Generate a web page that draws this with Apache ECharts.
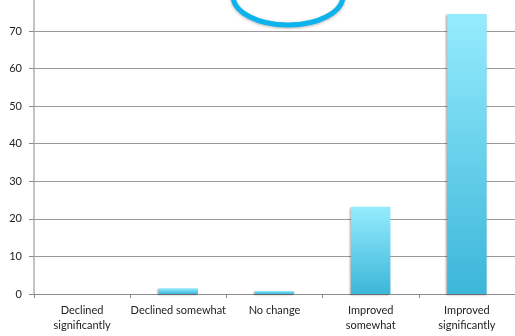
<!DOCTYPE html>
<html>
<head>
<meta charset="utf-8">
<script src="https://cdn.jsdelivr.net/npm/echarts@6/dist/echarts.min.js"></script>
<style>
html,body{margin:0;padding:0;background:#fff;}
#chart{width:515px;height:336px;}
</style>
</head>
<body>
<div id="chart"></div>
<script>
const categories = ['Declined\nsignificantly', 'Declined somewhat', 'No change', 'Improved\nsomewhat', 'Improved\nsignificantly'];
const values = [0, 1.5, 0.8, 23.2, 74.5];
const yTicks = [0, 10, 20, 30, 40, 50, 60, 70];
const yMax = 78.25; // axis continues past the top edge of the picture

const chart = echarts.init(document.getElementById('chart'), null, {renderer: 'canvas'});
chart.setOption({
  animation: false,
  grid: {left: 34, right: -4, top: 0, bottom: 42, containLabel: false},
  xAxis: {
    type: 'category',
    data: categories,
    axisLine: {lineStyle: {color: '#8c8c8c', width: 1}},
    axisTick: {show: true, length: 4, lineStyle: {color: '#8c8c8c'}},
    axisLabel: {color: '#222', fontFamily: 'Lato', fontSize: 11, lineHeight: 15, margin: 9, interval: 0}
  },
  yAxis: {
    type: 'value',
    min: yTicks[0], max: yMax, interval: 10,
    axisLine: {show: true, lineStyle: {color: '#b0b0b0', width: 1.5}},
    axisTick: {show: true, length: 5, lineStyle: {color: '#8c8c8c'}},
    axisLabel: {color: '#222', fontFamily: 'Lato', fontSize: 11, margin: 12, showMaxLabel: false,
      formatter: v => (yTicks.indexOf(v) >= 0 ? String(v) : '')},
    splitLine: {showMaxLine: false, lineStyle: {color: '#9a9a9a', width: 1}}
  },
  series: [{
    type: 'bar',
    data: values,
    barWidth: '41%',
    itemStyle: {
      color: new echarts.graphic.LinearGradient(0, 0, 0, 1, [
        {offset: 0, color: '#95ecfd'},
        {offset: 1, color: '#3cb6d9'}
      ]),
      shadowColor: 'rgba(0,0,0,0.35)',
      shadowBlur: 2,
      shadowOffsetX: -1,
      shadowOffsetY: 1
    }
  }],
  graphic: [{
    type: 'ellipse',
    shape: {cx: 288, cy: -4, rx: 55, ry: 29},
    style: {fill: 'none', stroke: '#0cb3ec', lineWidth: 5, shadowColor: 'rgba(0,0,0,0.3)', shadowBlur: 3, shadowOffsetY: 1},
    z: 100
  }]
});
</script>
</body>
</html>
